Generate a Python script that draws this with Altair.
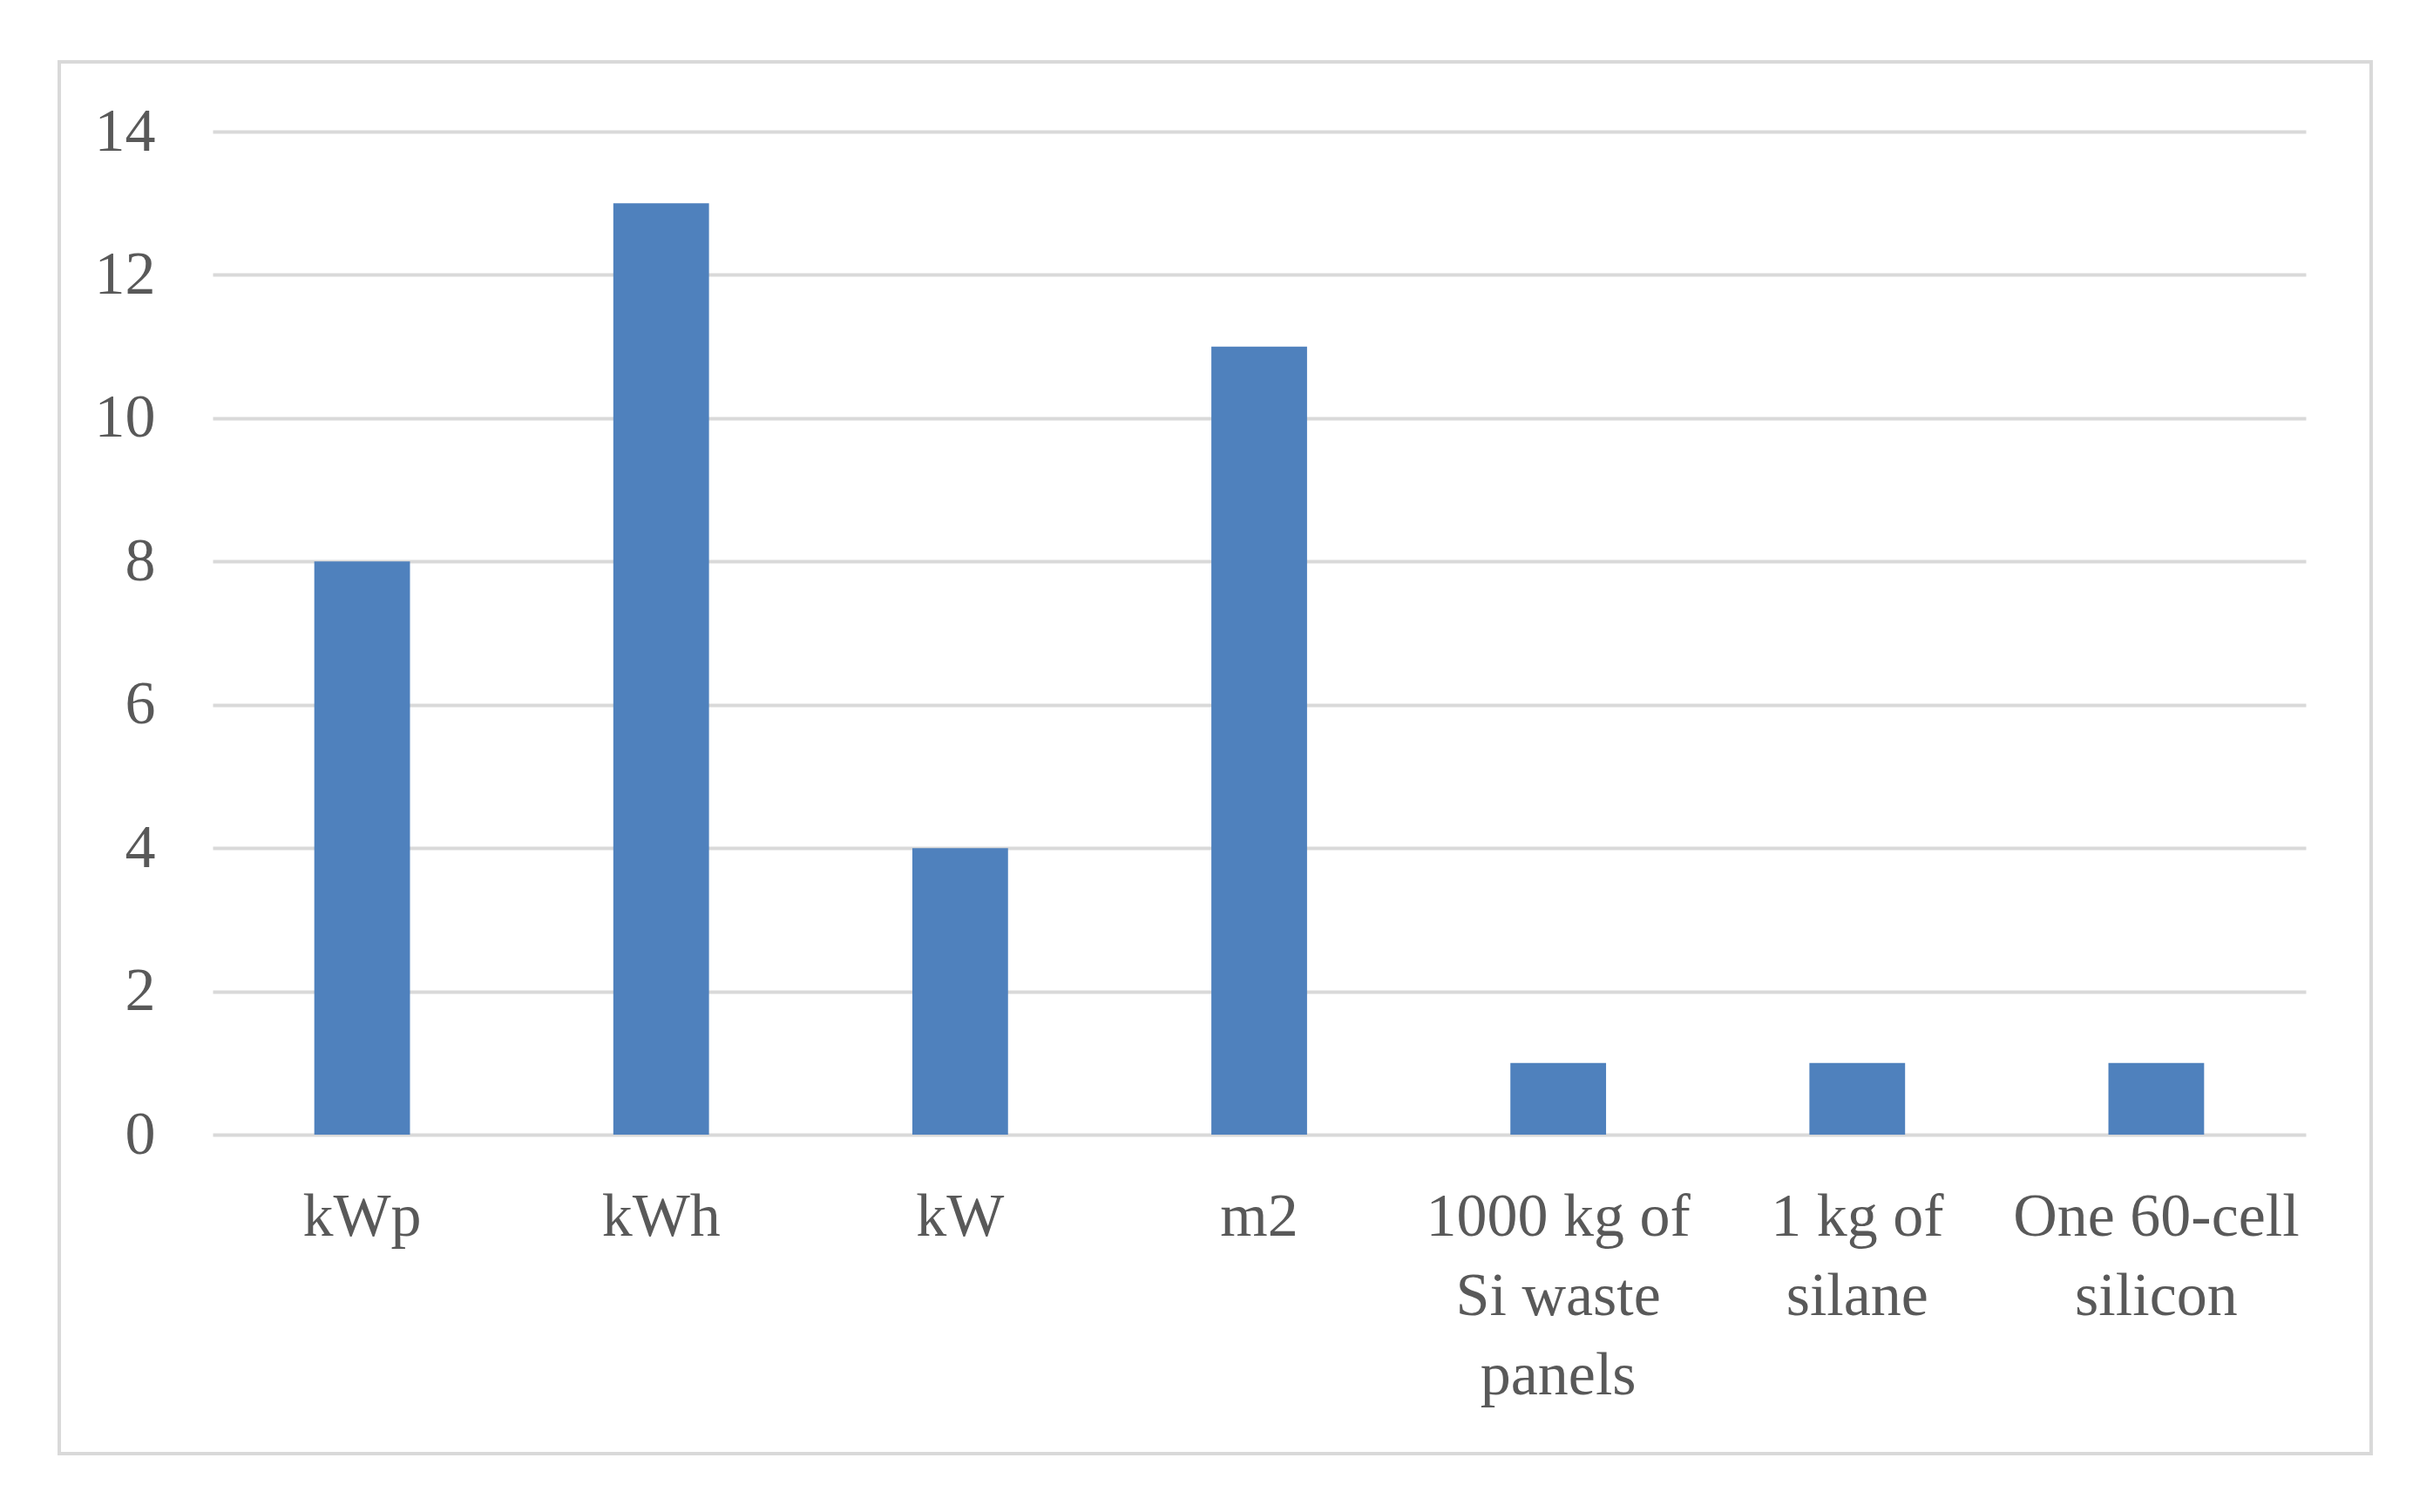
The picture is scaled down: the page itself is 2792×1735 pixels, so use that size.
import altair as alt
import pandas as pd

# --- data ---
categories = [
    "kWp",
    "kWh",
    "kW",
    "m2",
    "1000 kg of|Si waste|panels",
    "1 kg of|silane",
    "One 60-cell|silicon",
]
values = [8, 13, 4, 11, 1, 1, 1]
y_ticks = [0, 2, 4, 6, 8, 10, 12, 14]

df = pd.DataFrame({"category": categories, "value": values})

FONT = "Liberation Serif"
TEXT = "#595959"
GRID = "#d9d9d9"
BAR = "#4f81bd"

border = (
    alt.Chart(pd.DataFrame({"a": [0]}))
    .mark_rect(filled=False, stroke=GRID, strokeWidth=4)
    .encode(
        x=alt.value(-176),
        x2=alt.value(2477),
        y=alt.value(-80),
        y2=alt.value(1517),
    )
)

bars = (
    alt.Chart(df)
    .mark_bar(color=BAR)
    .encode(
        x=alt.X(
            "category:N",
            sort=None,
            scale=alt.Scale(paddingInner=0.68, paddingOuter=0.34),
            axis=alt.Axis(
                title=None,
                labelAngle=0,
                labelExpr="split(datum.label, '|')",
                labelFont=FONT,
                labelFontSize=70,
                labelColor=TEXT,
                labelLineHeight=91,
                labelBaseline="top",
                labelPadding=60,
                labelLimit=0,
                labelOverlap=False,
                ticks=False,
                domain=False,
                grid=False,
            ),
        ),
        y=alt.Y(
            "value:Q",
            scale=alt.Scale(domain=[0, 14], nice=False),
            axis=alt.Axis(
                title=None,
                values=y_ticks,
                labelFont=FONT,
                labelFontSize=70,
                labelColor=TEXT,
                labelPadding=66,
                ticks=False,
                domain=False,
                grid=True,
                gridColor=GRID,
                gridWidth=4,
            ),
        ),
    )
)

chart = (
    alt.layer(border, bars)
    .properties(
        width=2402,
        height=1151,
        autosize=alt.AutoSizeParams(type="none"),
        padding={"left": 236, "top": 143, "right": 122, "bottom": 406},
        background="white",
    )
    .configure_view(stroke=None)
)

chart.save("out.html", embed_options={"renderer": "svg", "actions": False})
